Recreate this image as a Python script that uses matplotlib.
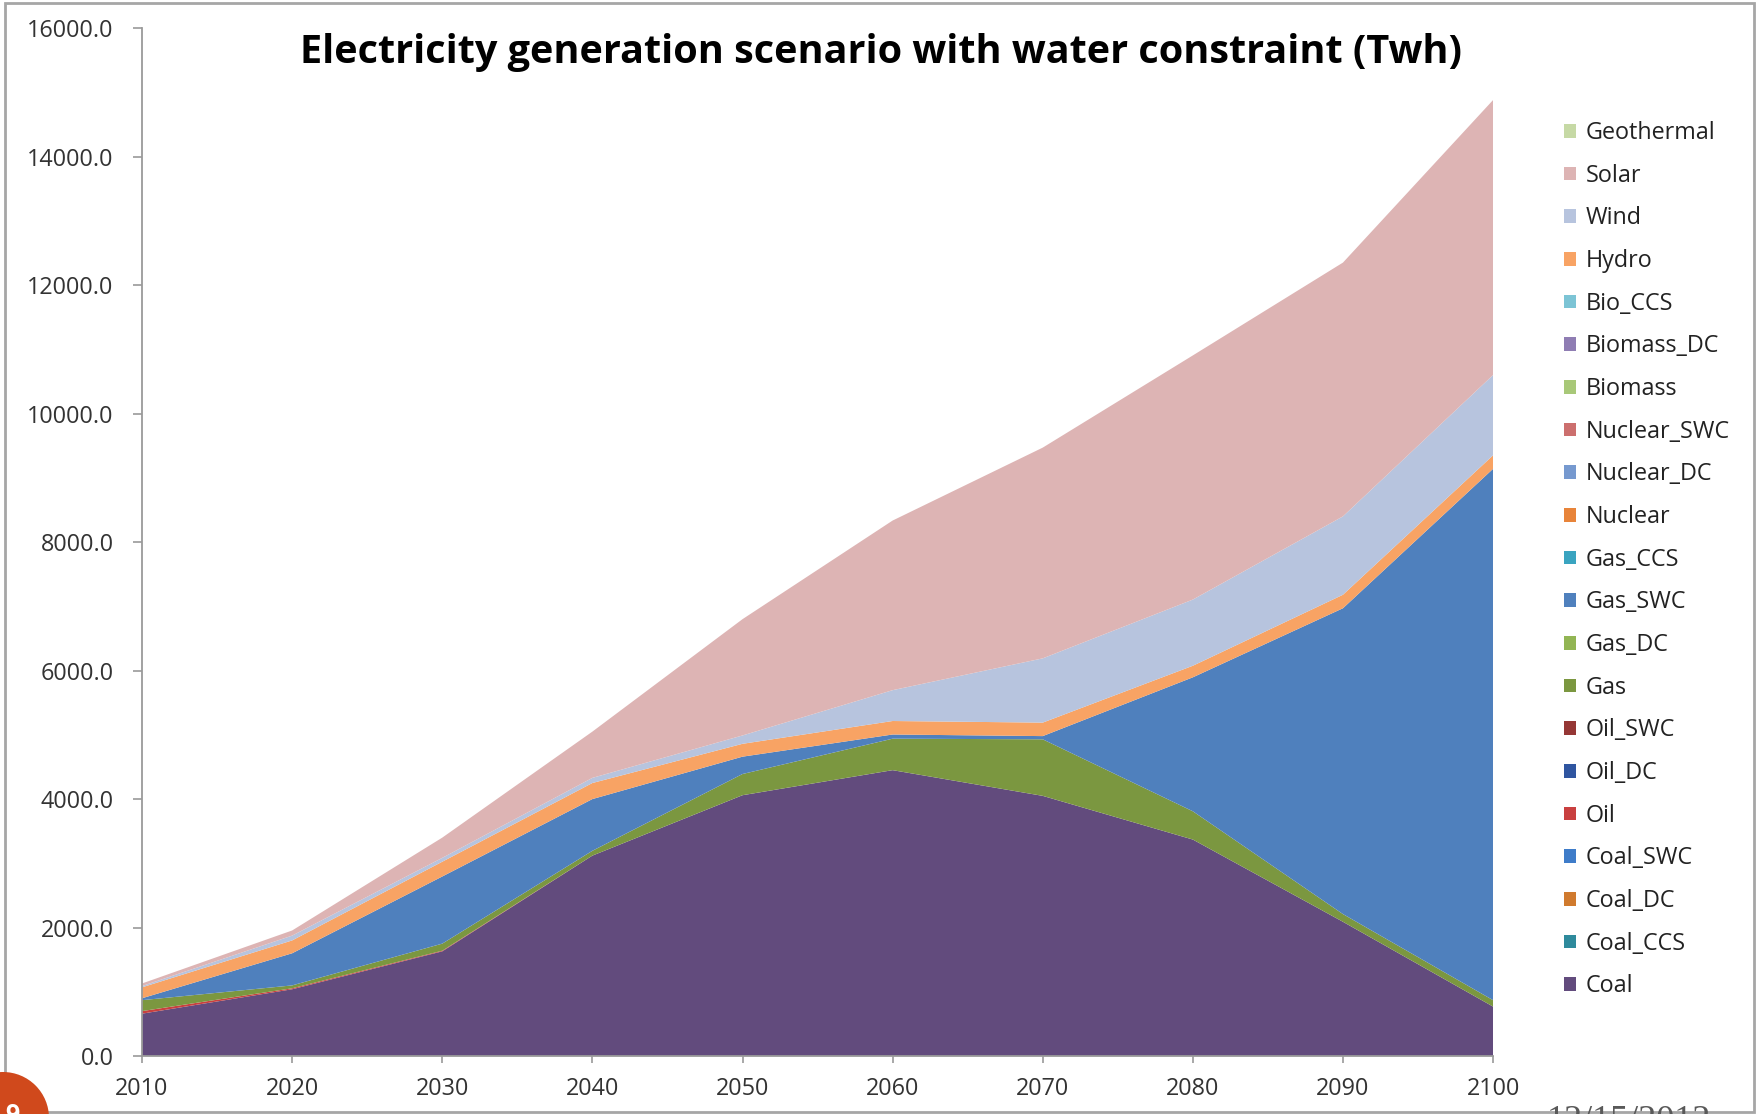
import matplotlib
matplotlib.use("Agg")
import matplotlib.pyplot as plt
from matplotlib.patches import Ellipse, Rectangle
from matplotlib.ticker import FormatStrFormatter, MultipleLocator

plt.rcParams["font.family"] = ["Open Sans", "DejaVu Sans"]

years = [2010, 2020, 2030, 2040, 2050, 2060, 2070, 2080, 2090, 2100]

# Generation per technology (Twh)
coal = [660, 1040, 1630, 3120, 4060, 4450, 4050, 3370, 2090, 770]
oil = [40, 15, 10, 0, 0, 0, 0, 0, 0, 0]
gas = [170, 45, 110, 75, 330, 490, 880, 440, 120, 100]
gas_swc = [30, 500, 1045, 805, 270, 65, 50, 2085, 4760, 8270]
hydro = [170, 200, 230, 250, 200, 210, 210, 180, 210, 210]
wind = [20, 75, 60, 80, 130, 480, 1000, 1030, 1220, 1250]
solar = [40, 80, 315, 720, 1810, 2640, 3280, 3800, 3950, 4280]
none = [0, 0, 0, 0, 0, 0, 0, 0, 0, 0]

# stacking order, bottom to top
tech_names = ["Coal", "Coal_CCS", "Coal_DC", "Coal_SWC", "Oil", "Oil_DC", "Oil_SWC",
              "Gas", "Gas_DC", "Gas_SWC", "Gas_CCS", "Nuclear", "Nuclear_DC",
              "Nuclear_SWC", "Biomass", "Biomass_DC", "Bio_CCS", "Hydro", "Wind",
              "Solar", "Geothermal"]
tech_values = [coal, none, none, none, oil, none, none,
               gas, none, gas_swc, none, none, none,
               none, none, none, none, hydro, wind,
               solar, none]
tech_colors = ["#624B7D", "#2E8A9C", "#D07A2E", "#3E7CC9", "#C9403F", "#2F55A0", "#953735",
               "#7B9740", "#92B554", "#4F80BD", "#3AA4C0", "#E8843A", "#7699CF",
               "#CC6F6E", "#A8C878", "#8F7DB3", "#7CC4D5", "#F8A364", "#B7C4DE",
               "#DDB4B4", "#C6D9A5"]

FIG_W, FIG_H = 1758, 1114


def draw_slide_decor(fig):
    # slide frame, page badge and date footer
    fig.patches.append(Rectangle((0.003, 0.002), 0.995, 0.995, transform=fig.transFigure,
                                 fill=False, edgecolor="#A6A6A6", linewidth=2))
    r = 46
    fig.patches.append(Ellipse((3 / FIG_W, 1 - 1118 / FIG_H), 2 * r / FIG_W, 2 * r / FIG_H,
                               transform=fig.transFigure, facecolor="#D0491C",
                               edgecolor="none"))
    fig.text(12 / FIG_W, 1 - 1122 / FIG_H, "9", color="white", fontsize=18,
             fontweight="bold", ha="center", va="baseline")
    fig.text(1547 / FIG_W, 1 - 1130 / FIG_H, "12/15/2012", color="#595959",
             fontsize=26, family="Liberation Serif", ha="left", va="baseline")


def main():
    fig = plt.figure(figsize=(FIG_W / 100, FIG_H / 100), dpi=100)
    ax = fig.add_axes([0.0808, 0.052, 0.7685, 0.9228])

    polys = ax.stackplot(years, *tech_values, labels=tech_names, colors=tech_colors,
                         linewidth=0)

    ax.set_xlim(2010, 2100)
    ax.set_ylim(0, 16000)
    ax.xaxis.set_major_locator(MultipleLocator(10))
    ax.yaxis.set_major_locator(MultipleLocator(2000))
    ax.yaxis.set_major_formatter(FormatStrFormatter("%.1f"))

    for side in ["top", "right"]:
        ax.spines[side].set_visible(False)
    for side in ["left", "bottom"]:
        ax.spines[side].set_color("#9A9A9A")
        ax.spines[side].set_linewidth(1.3)
    ax.tick_params(axis="y", direction="out", length=6.5, width=1.2, color="#9A9A9A",
                   labelsize=16.8, labelcolor="#333333", pad=14)
    ax.tick_params(axis="x", direction="out", length=5, width=1.2, color="#9A9A9A",
                   labelsize=16.8, labelcolor="#333333", pad=10)

    fig.text(0.501, 1 - 52 / FIG_H, "Electricity generation scenario with water constraint (Twh)",
             fontsize=28.5, fontweight="bold", ha="center", va="center", color="black")

    ax.legend(polys[::-1], tech_names[::-1], loc="upper left",
              bbox_to_anchor=(1564 / FIG_W, 1 - 121 / FIG_H), bbox_transform=fig.transFigure,
              frameon=False, fontsize=16.8, handlelength=0.52, handleheight=0.52,
              handletextpad=0.4, labelspacing=0.8, borderpad=0, borderaxespad=0,
              labelcolor="#222222")

    draw_slide_decor(fig)

    fig.savefig("out.png", dpi=100)
    plt.close(fig)


if __name__ == "__main__":
    main()
